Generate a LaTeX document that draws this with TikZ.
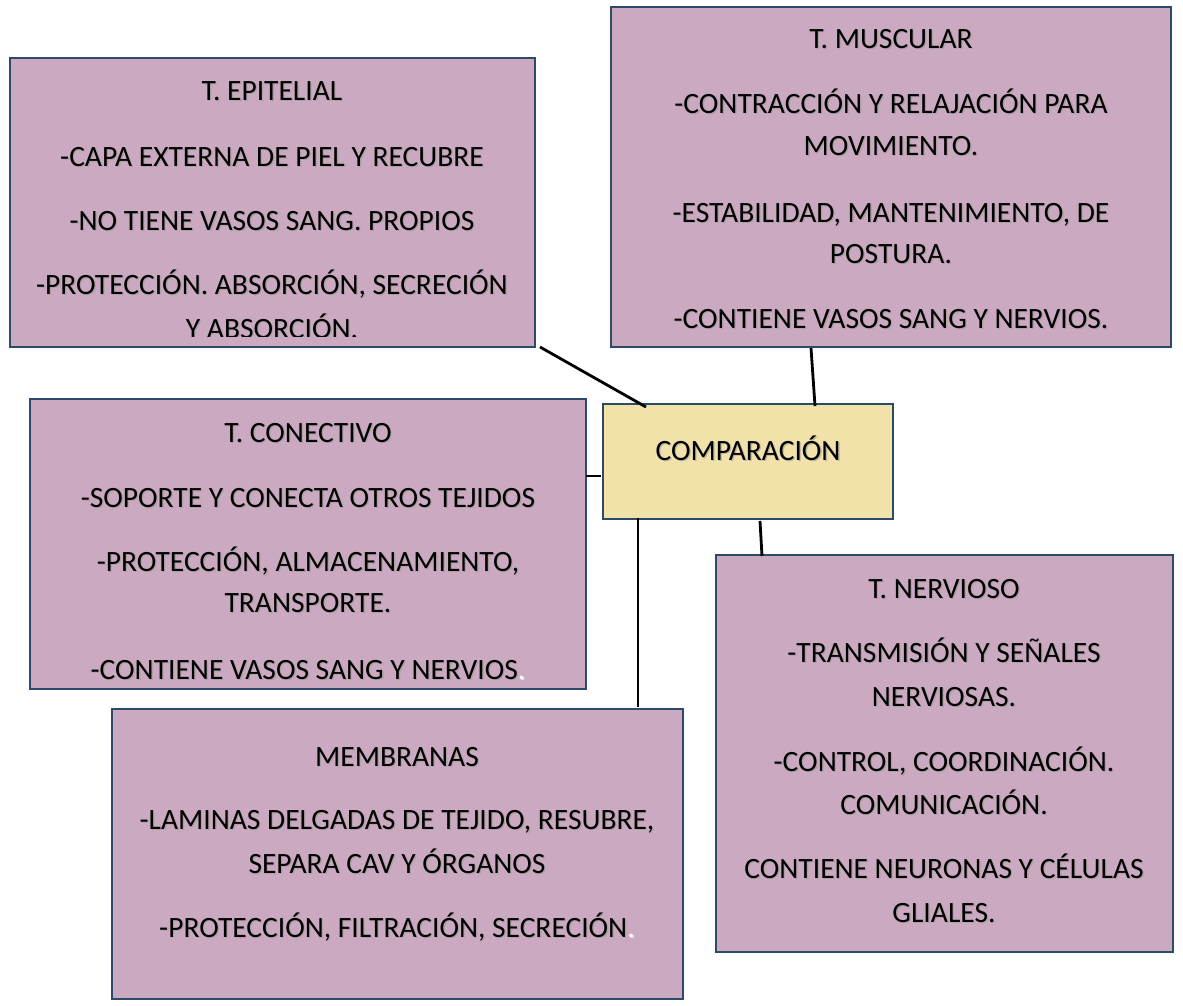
\documentclass[tikz,border=0pt]{standalone}
\usepackage{fontspec}
\setmainfont{Carlito}
\definecolor{pinkfill}{HTML}{CBA9C0}
\definecolor{yelfill}{HTML}{F1E2AA}
\definecolor{boxline}{HTML}{2E4A6A}
\newcommand{\tline}[4]{%
  \node[txt,text=black!40,opacity=0.6] (#1s) at (#2+1.3,#3+1.3) {#4};
  \node[txt] (#1) at (#2,#3) {#4};}
\begin{document}
\begin{tikzpicture}[x=1pt,y=-1pt,
  box/.style={draw=boxline,line width=2.4pt,fill=pinkfill,anchor=north west,inner sep=0pt,outer sep=0pt},
  cbox/.style={draw=boxline,line width=2.4pt,fill=yelfill,anchor=north west,inner sep=0pt,outer sep=0pt},
  txt/.style={anchor=base,inner sep=0pt,font=\fontsize{29.5}{34}\selectfont,text=black},
  conn/.style={draw=black,line width=2.8pt}]
\useasboundingbox[fill=white] (0,0) rectangle (1183,1005);
% boxes
\node[box,minimum width=525pt,minimum height=289pt] (epi) at (10,58) {};
\node[box,minimum width=560pt,minimum height=340pt] (mus) at (611,7) {};
\node[cbox,minimum width=290pt,minimum height=115pt] (comp) at (603,404) {};
\node[box,minimum width=556pt,minimum height=290pt] (con) at (30,399) {};
\node[box,minimum width=571pt,minimum height=290pt] (mem) at (112,709) {};
\node[box,minimum width=457pt,minimum height=397pt] (ner) at (716,555) {};
% connectors
\coordinate (e1) at (540,347); \coordinate (e2) at (646,407);
\coordinate (m1) at (811,348); \coordinate (m2) at (815,406);
\coordinate (c1) at (586,476); \coordinate (c2) at (601,476);
\coordinate (b1) at (638,518); \coordinate (b2) at (638,707);
\coordinate (n1) at (760,521); \coordinate (n2) at (762,556);
\draw[conn] (e1) -- (e2);
\draw[conn] (m1) -- (m2);
\draw[conn] (c1) -- (c2);
\draw[conn] (b1) -- (b2);
\draw[conn] (n1) -- (n2);
% epitelial text
\begin{scope}
\clip ([shift={(1,-1)}]epi.north west) rectangle ([shift={(-1,-11)}]epi.south east);
\tline{e0}{272}{100}{T. EPITELIAL}
\tline{et1}{272}{166}{-CAPA EXTERNA DE PIEL Y RECUBRE}
\tline{et2}{272}{230}{-NO TIENE VASOS SANG. PROPIOS}
\tline{et3}{272}{294}{-PROTECCIÓN. ABSORCIÓN, SECRECIÓN}
\tline{et4}{272}{338}{Y ABSORCIÓN.}
\end{scope}
% muscular text
\tline{m0}{891}{48}{T. MUSCULAR}
\tline{mt1}{891}{113}{-CONTRACCIÓN Y RELAJACIÓN PARA}
\tline{mt2}{891}{155}{MOVIMIENTO.}
\tline{mt3}{891}{222}{-ESTABILIDAD, MANTENIMIENTO, DE}
\tline{mt4}{891}{263}{POSTURA.}
\tline{mt5}{891}{328}{-CONTIENE VASOS SANG Y NERVIOS.}
% comparacion
\tline{ct}{748}{460}{COMPARACIÓN}
% conectivo
\tline{k0}{308}{442}{T. CONECTIVO}
\tline{kt1}{308}{507}{-SOPORTE Y CONECTA OTROS TEJIDOS}
\tline{kt2}{308}{571}{-PROTECCIÓN, ALMACENAMIENTO,}
\tline{kt3}{308}{612}{TRANSPORTE.}
\tline{kt4}{308}{679}{-CONTIENE VASOS SANG Y NERVIOS\textcolor{white}{.}}
% membranas
\tline{b0}{397}{766}{MEMBRANAS}
\tline{bt1}{397}{829}{-LAMINAS DELGADAS DE TEJIDO, RESUBRE,}
\tline{bt2}{397}{873}{SEPARA CAV Y ÓRGANOS}
\tline{bt3}{397}{937}{-PROTECCIÓN, FILTRACIÓN, SECRECIÓN\textcolor{white}{.}}
% nervioso
\tline{n0}{944}{598}{T. NERVIOSO}
\tline{nt1}{944}{662}{-TRANSMISIÓN Y SEÑALES}
\tline{nt2}{944}{706}{NERVIOSAS.}
\tline{nt3}{944}{771}{-CONTROL, COORDINACIÓN.}
\tline{nt4}{944}{814}{COMUNICACIÓN.}
\tline{nt5}{944}{878}{CONTIENE NEURONAS Y CÉLULAS}
\tline{nt6}{944}{922}{GLIALES.}
\end{tikzpicture}
\end{document}
